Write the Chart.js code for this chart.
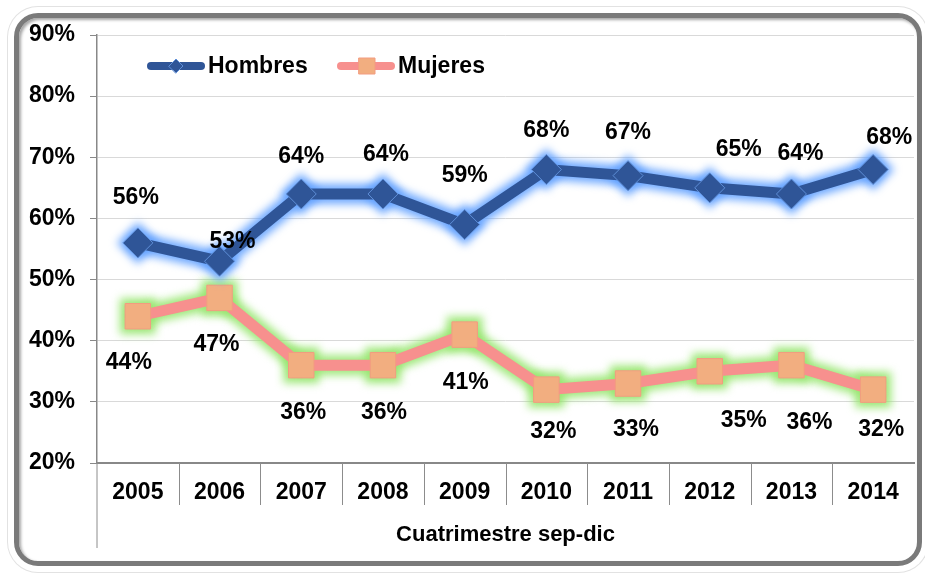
<!DOCTYPE html>
<html>
<head>
<meta charset="utf-8">
<script src="https://cdn.jsdelivr.net/npm/chart.js@4.4.1/dist/chart.umd.min.js"></script>
<style>
html, body { margin: 0; padding: 0; background: #fff; }
#wrap { position: relative; width: 925px; height: 573px; overflow: hidden; }
#frame {
    position: absolute; left: 14px; top: 13px; width: 898px; height: 543px;
    border: 5px solid #7a7a7a; border-radius: 24px; background: #fff;
    box-shadow: 0 0 0 6px #fff, 0 0 0 7px #e2e2e2, inset 2px 2px 3px rgba(0,0,0,.35);
}
canvas { position: absolute; left: 0; top: 0; }
</style>
</head>
<body>
<div id="wrap">
    <div id="frame"></div>
    <canvas id="chart" width="933" height="573"></canvas>
</div>
<script>
const years = ['2005', '2006', '2007', '2008', '2009', '2010', '2011', '2012', '2013', '2014'];
const hombres = [56, 53, 64, 64, 59, 68, 67, 65, 64, 68];
const mujeres = [44, 47, 36, 36, 41, 32, 33, 35, 36, 32];
const yMin = 20, yMax = 90, yStep = 10;
const axisTitle = 'Cuatrimestre sep-dic';

const FONT = '"Liberation Sans", Arial, sans-serif';
Chart.defaults.font.family = FONT;
Chart.defaults.color = '#000';

const blue = '#2F5597';
const salmon = '#F7908E';
const peach = '#F2AE80';

// soft glow: a blurred, wider copy of the line drawn under each series
const glow = {
    id: 'glow',
    beforeDatasetDraw(chart, args, opts) {
        const ctx = chart.ctx;
        const pts = chart.getDatasetMeta(args.index).data;
        ctx.save();
        ctx.filter = 'blur(4px)';
        ctx.strokeStyle = opts.colors[args.index];
        ctx.fillStyle = opts.colors[args.index];
        ctx.lineWidth = 20;
        ctx.lineJoin = 'round';
        ctx.lineCap = 'round';
        ctx.beginPath();
        pts.forEach((p, i) => i ? ctx.lineTo(p.x, p.y) : ctx.moveTo(p.x, p.y));
        ctx.stroke();
        pts.forEach(p => {
            ctx.beginPath();
            if (args.index === 0) {
                ctx.moveTo(p.x - 21, p.y); ctx.lineTo(p.x, p.y - 21);
                ctx.lineTo(p.x + 21, p.y); ctx.lineTo(p.x, p.y + 21);
            } else {
                ctx.rect(p.x - 18, p.y - 18, 36, 36);
            }
            ctx.closePath();
            ctx.fill();
        });
        ctx.restore();
    }
};

// value labels, each one moved a bit like in the original
const valueLabels = {
    id: 'valueLabels',
    afterDatasetsDraw(chart, args, opts) {
        const ctx = chart.ctx;
        ctx.save();
        ctx.font = 'bold 23px ' + FONT;
        ctx.fillStyle = '#000';
        ctx.textAlign = 'center';
        ctx.textBaseline = 'middle';
        chart.data.datasets.forEach((ds, i) => {
            const meta = chart.getDatasetMeta(i);
            meta.data.forEach((pt, j) => {
                const off = opts.offsets[i][j];
                ctx.fillText(ds.data[j] + '%', pt.x + off[0], pt.y + off[1]);
            });
        });
        ctx.restore();
    }
};

// legend drawn inside the plot area
const insideLegend = {
    id: 'insideLegend',
    afterDraw(chart) {
        const ctx = chart.ctx;
        const a = chart.chartArea;
        const y = a.top + 31;
        const items = [
            { x: a.left + 50, ds: chart.data.datasets[0] },
            { x: a.left + 240, ds: chart.data.datasets[1] }
        ];
        ctx.save();
        items.forEach(it => {
            const ds = it.ds;
            ctx.strokeStyle = ds.borderColor;
            ctx.lineWidth = 8;
            ctx.lineCap = 'round';
            ctx.beginPath();
            ctx.moveTo(it.x + 4, y);
            ctx.lineTo(it.x + 54, y);
            ctx.stroke();
            ctx.fillStyle = ds.pointBackgroundColor;
            ctx.strokeStyle = ds.pointBorderColor;
            ctx.lineWidth = 1;
            ctx.beginPath();
            if (ds.pointStyle === 'rectRot') {
                ctx.moveTo(it.x + 22, y); ctx.lineTo(it.x + 29, y - 7);
                ctx.lineTo(it.x + 36, y); ctx.lineTo(it.x + 29, y + 7);
            } else {
                ctx.rect(it.x + 22, y - 8, 16, 16);
            }
            ctx.closePath();
            ctx.fill();
            ctx.stroke();
            ctx.fillStyle = '#000';
            ctx.font = 'bold 23px ' + FONT;
            ctx.textAlign = 'left';
            ctx.textBaseline = 'middle';
            ctx.fillText(ds.label, it.x + 61, y + 1);
        });
        ctx.restore();
    }
};

// category separators under the x axis and the long left axis line
const separators = {
    id: 'separators',
    afterDraw(chart) {
        const ctx = chart.ctx;
        const a = chart.chartArea;
        const w = (a.right - a.left) / years.length;
        ctx.save();
        ctx.strokeStyle = '#8c8c8c';
        ctx.lineWidth = 1;
        ctx.beginPath();
        for (let k = 1; k < years.length; k++) {
            const x = Math.round(a.left + k * w) + 0.5;
            ctx.moveTo(x, a.bottom);
            ctx.lineTo(x, a.bottom + 42);
        }
        ctx.moveTo(a.left, a.bottom);
        ctx.lineTo(a.left, 548);
        ctx.stroke();
        ctx.restore();
    }
};

new Chart(document.getElementById('chart'), {
    type: 'line',
    data: {
        labels: years,
        datasets: [{
            label: 'Hombres',
            data: hombres,
            borderColor: blue,
            borderWidth: 11,
            pointStyle: 'rectRot',
            pointRadius: 15,
            pointHoverRadius: 15,
            pointBackgroundColor: blue,
            pointBorderColor: '#5F8FD8',
            pointBorderWidth: 1
        }, {
            label: 'Mujeres',
            data: mujeres,
            borderColor: salmon,
            borderWidth: 11,
            pointStyle: 'rect',
            pointRadius: 18,
            pointHoverRadius: 18,
            pointBackgroundColor: peach,
            pointBorderColor: '#F39C80',
            pointBorderWidth: 1
        }]
    },
    options: {
        responsive: false,
        animation: false,
        layout: { padding: { left: 0, right: 0, top: 35, bottom: 0 } },
        plugins: {
            legend: { display: false },
            tooltip: { enabled: false },
            glow: { colors: ['rgba(95,160,255,0.9)', 'rgba(150,230,110,0.9)'] },
            valueLabels: {
                offsets: [
                    [[-2, -45], [13, -20], [0, -37], [3, -39], [0, -49], [0, -39], [0, -43], [29, -38], [9, -40], [16, -32]],
                    [[-9, 46], [-3, 47], [2, 47], [1, 47], [1, 48], [7, 42], [8, 46], [34, 49], [18, 57], [8, 40]]
                ]
            }
        },
        scales: {
            x: {
                offset: true,
                grid: { display: false, drawTicks: false },
                border: { color: '#888', width: 2 },
                ticks: { padding: 16, font: { size: 23, weight: 'bold' } },
                title: {
                    display: true,
                    text: axisTitle,
                    font: { size: 22, weight: 'bold' },
                    padding: { top: 0, bottom: 25 }
                },
                afterFit(scale) { scale.height = 110; }
            },
            y: {
                min: yMin,
                max: yMax,
                ticks: {
                    stepSize: yStep,
                    padding: 15,
                    font: { size: 23, weight: 'bold' },
                    callback: v => v + '%'
                },
                grid: { color: '#d9d9d9', tickColor: '#888', tickLength: 7 },
                border: { color: '#888', width: 1.5 },
                afterFit(scale) { scale.width = 97; }
            }
        }
    },
    plugins: [glow, valueLabels, insideLegend, separators]
});
</script>
</body>
</html>
